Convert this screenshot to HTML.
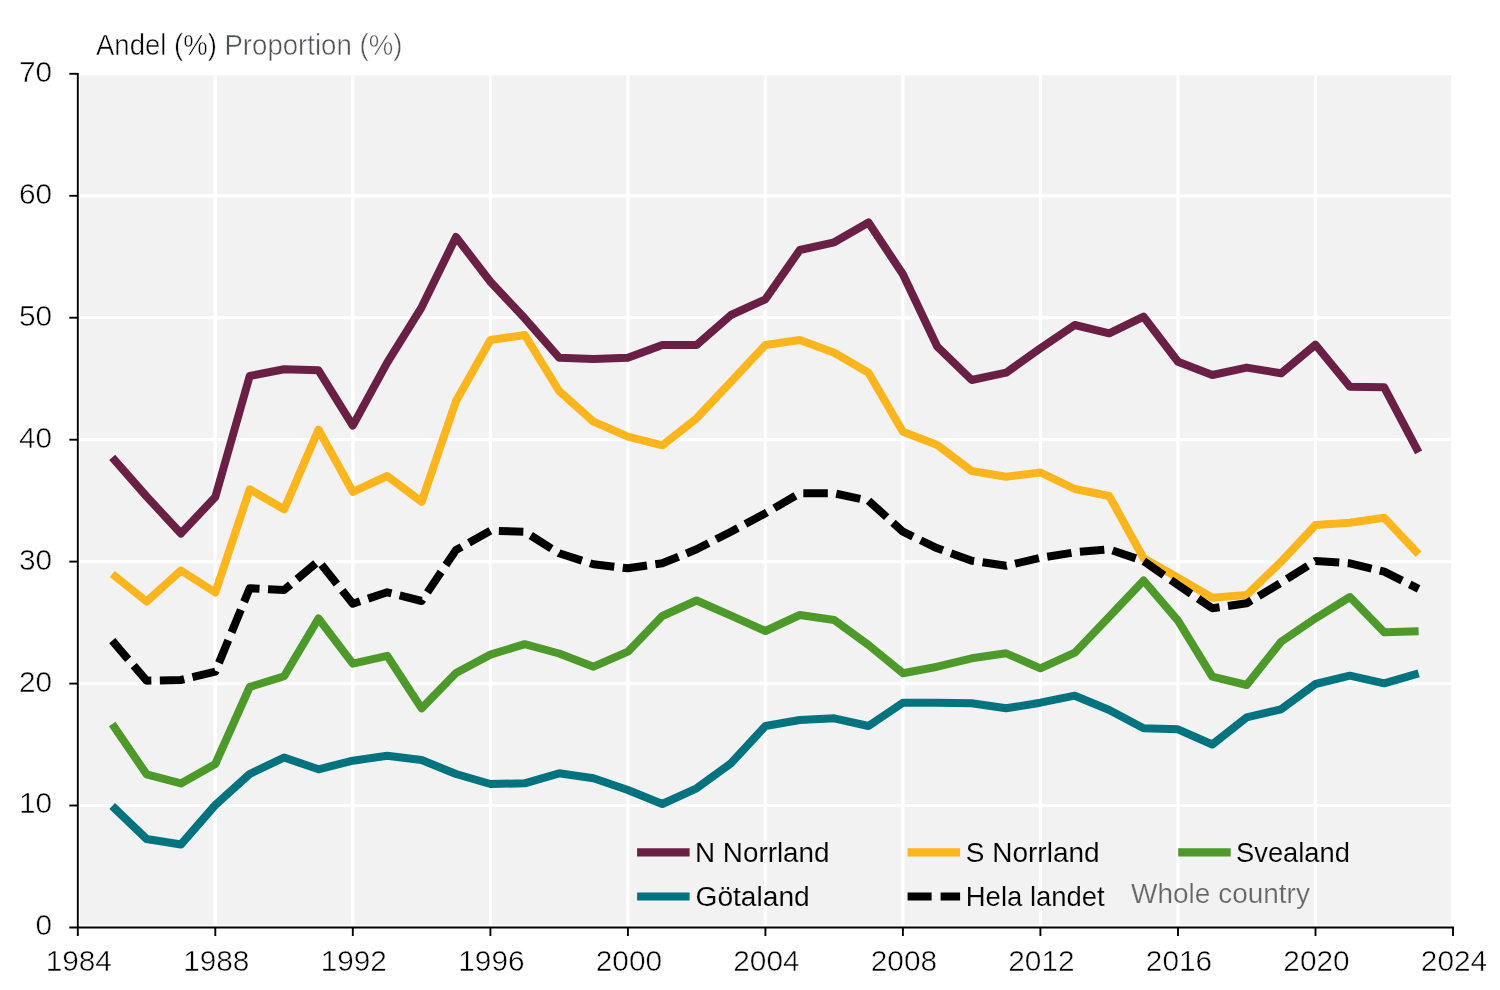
<!DOCTYPE html><html><head><meta charset="utf-8"><title>Chart</title>
<style>html,body{margin:0;padding:0;background:#fff}svg{display:block}text{font-family:"Liberation Sans",sans-serif;font-size:27.5px;fill:#111}</style></head><body>
<svg width="1500" height="990" viewBox="0 0 1500 990">
<rect x="0" y="0" width="1500" height="990" fill="#fff"/>
<rect x="80" y="75.3" width="1371.2" height="849.7" fill="#f2f2f2"/>
<g stroke="#fff" stroke-width="3.2"><line x1="77.8" x2="1453.0" y1="805.5" y2="805.5"/><line x1="77.8" x2="1453.0" y1="683.6" y2="683.6"/><line x1="77.8" x2="1453.0" y1="561.6" y2="561.6"/><line x1="77.8" x2="1453.0" y1="439.7" y2="439.7"/><line x1="77.8" x2="1453.0" y1="317.7" y2="317.7"/><line x1="77.8" x2="1453.0" y1="195.8" y2="195.8"/><line x1="215.3" x2="215.3" y1="73.8" y2="927.5"/><line x1="352.8" x2="352.8" y1="73.8" y2="927.5"/><line x1="490.4" x2="490.4" y1="73.8" y2="927.5"/><line x1="627.9" x2="627.9" y1="73.8" y2="927.5"/><line x1="765.4" x2="765.4" y1="73.8" y2="927.5"/><line x1="902.9" x2="902.9" y1="73.8" y2="927.5"/><line x1="1040.4" x2="1040.4" y1="73.8" y2="927.5"/><line x1="1178.0" x2="1178.0" y1="73.8" y2="927.5"/><line x1="1315.5" x2="1315.5" y1="73.8" y2="927.5"/></g>
<polyline fill="none" stroke-width="8" stroke-linejoin="round" stroke-linecap="butt" stroke="#00737f" points="112.2,806.0 146.6,839.0 180.9,844.5 215.3,805.0 249.7,774.0 284.1,757.5 318.5,769.3 352.8,760.7 387.2,755.8 421.6,760.0 456.0,774.0 490.4,784.0 524.7,783.3 559.1,773.3 593.5,778.3 627.9,790.0 662.3,804.0 696.6,788.3 731.0,763.3 765.4,726.0 799.8,720.0 834.2,718.3 868.5,726.0 902.9,702.7 937.3,702.7 971.7,703.3 1006.1,708.3 1040.4,702.7 1074.8,695.7 1109.2,710.0 1143.6,728.3 1178.0,729.3 1212.3,744.5 1246.7,717.3 1281.1,709.3 1315.5,684.0 1349.9,675.7 1384.2,683.3 1418.6,673.3"/>
<polyline fill="none" stroke-width="8" stroke-linejoin="round" stroke-linecap="butt" stroke="#4d9a2a" points="112.2,724.0 146.6,774.3 180.9,783.4 215.3,764.0 249.7,687.0 284.1,676.3 318.5,618.5 352.8,663.7 387.2,655.8 421.6,708.4 456.0,673.0 490.4,654.6 524.7,644.2 559.1,653.5 593.5,666.7 627.9,651.7 662.3,616.0 696.6,600.5 731.0,615.7 765.4,631.0 799.8,615.0 834.2,620.0 868.5,645.0 902.9,673.2 937.3,666.7 971.7,658.3 1006.1,653.3 1040.4,668.3 1074.8,652.7 1109.2,616.7 1143.6,580.5 1178.0,620.7 1212.3,676.7 1246.7,685.0 1281.1,641.7 1315.5,618.3 1349.9,597.0 1384.2,632.3 1418.6,631.3"/>
<polyline fill="none" stroke-width="8" stroke-linejoin="round" stroke-linecap="butt" stroke="#fdb51e" points="112.2,574.0 146.6,601.5 180.9,570.5 215.3,592.5 249.7,489.3 284.1,509.3 318.5,429.7 352.8,491.8 387.2,476.0 421.6,501.8 456.0,401.0 490.4,340.0 524.7,335.0 559.1,391.0 593.5,421.7 627.9,436.7 662.3,445.3 696.6,418.3 731.0,381.7 765.4,345.0 799.8,340.0 834.2,352.7 868.5,372.7 902.9,431.7 937.3,445.0 971.7,471.0 1006.1,476.7 1040.4,472.5 1074.8,489.0 1109.2,496.0 1143.6,558.3 1178.0,577.7 1212.3,597.7 1246.7,595.0 1281.1,561.7 1315.5,525.0 1349.9,522.7 1384.2,517.7 1418.6,554.2"/>
<polyline fill="none" stroke-width="8" stroke-linejoin="round" stroke-linecap="butt" stroke="#6a1f45" points="112.2,457.3 146.6,496.5 180.9,533.5 215.3,497.0 249.7,376.0 284.1,369.3 318.5,370.3 352.8,425.6 387.2,362.7 421.6,307.3 456.0,237.0 490.4,281.7 524.7,318.3 559.1,357.7 593.5,359.0 627.9,357.7 662.3,345.0 696.6,345.0 731.0,315.0 765.4,299.3 799.8,250.0 834.2,242.3 868.5,222.5 902.9,274.3 937.3,346.7 971.7,380.0 1006.1,372.7 1040.4,348.3 1074.8,325.0 1109.2,333.3 1143.6,316.7 1178.0,361.7 1212.3,375.0 1246.7,367.6 1281.1,373.3 1315.5,344.7 1349.9,386.7 1384.2,387.3 1418.6,452.3"/>
<polyline fill="none" stroke-width="8" stroke-linejoin="round" stroke-linecap="butt" stroke="#000" stroke-dasharray="24.5 8.5" points="112.2,640.7 146.6,680.7 180.9,680.0 215.3,671.7 249.7,588.3 284.1,590.0 318.5,561.0 352.8,603.7 387.2,592.3 421.6,601.0 456.0,550.0 490.4,530.7 524.7,531.7 559.1,553.3 593.5,564.3 627.9,568.3 662.3,563.3 696.6,549.3 731.0,531.7 765.4,513.3 799.8,493.3 834.2,493.3 868.5,500.7 902.9,531.7 937.3,548.3 971.7,560.7 1006.1,565.8 1040.4,557.8 1074.8,552.3 1109.2,549.3 1143.6,561.0 1178.0,585.0 1212.3,608.3 1246.7,603.3 1281.1,582.7 1315.5,561.0 1349.9,563.3 1384.2,571.7 1418.6,588.8"/>
<g stroke="#000" stroke-width="1.9" stroke-linecap="butt"><line x1="77.8" x2="77.8" y1="72.9" y2="936.0"/><line x1="69.3" x2="1454.0" y1="927.5" y2="927.5"/><line x1="69.3" x2="77.8" y1="805.5" y2="805.5"/><line x1="69.3" x2="77.8" y1="683.6" y2="683.6"/><line x1="69.3" x2="77.8" y1="561.6" y2="561.6"/><line x1="69.3" x2="77.8" y1="439.7" y2="439.7"/><line x1="69.3" x2="77.8" y1="317.7" y2="317.7"/><line x1="69.3" x2="77.8" y1="195.8" y2="195.8"/><line x1="69.3" x2="77.8" y1="73.8" y2="73.8"/><line x1="215.3" x2="215.3" y1="927.5" y2="936.0"/><line x1="352.8" x2="352.8" y1="927.5" y2="936.0"/><line x1="490.4" x2="490.4" y1="927.5" y2="936.0"/><line x1="627.9" x2="627.9" y1="927.5" y2="936.0"/><line x1="765.4" x2="765.4" y1="927.5" y2="936.0"/><line x1="902.9" x2="902.9" y1="927.5" y2="936.0"/><line x1="1040.4" x2="1040.4" y1="927.5" y2="936.0"/><line x1="1178.0" x2="1178.0" y1="927.5" y2="936.0"/><line x1="1315.5" x2="1315.5" y1="927.5" y2="936.0"/><line x1="1453.0" x2="1453.0" y1="927.5" y2="936.0"/></g>
<g style="opacity:0.999">
<text transform="translate(52.2,935.4) scale(1.0,1)" text-anchor="end" style="font-size:29.8px;fill:#000;stroke:#fff;stroke-width:0.5px;paint-order:fill stroke">0</text>
<text transform="translate(52.2,813.4) scale(1.0,1)" text-anchor="end" style="font-size:29.8px;fill:#000;stroke:#fff;stroke-width:0.5px;paint-order:fill stroke">10</text>
<text transform="translate(52.2,691.5) scale(1.0,1)" text-anchor="end" style="font-size:29.8px;fill:#000;stroke:#fff;stroke-width:0.5px;paint-order:fill stroke">20</text>
<text transform="translate(52.2,569.5) scale(1.0,1)" text-anchor="end" style="font-size:29.8px;fill:#000;stroke:#fff;stroke-width:0.5px;paint-order:fill stroke">30</text>
<text transform="translate(52.2,447.6) scale(1.0,1)" text-anchor="end" style="font-size:29.8px;fill:#000;stroke:#fff;stroke-width:0.5px;paint-order:fill stroke">40</text>
<text transform="translate(52.2,325.6) scale(1.0,1)" text-anchor="end" style="font-size:29.8px;fill:#000;stroke:#fff;stroke-width:0.5px;paint-order:fill stroke">50</text>
<text transform="translate(52.2,203.7) scale(1.0,1)" text-anchor="end" style="font-size:29.8px;fill:#000;stroke:#fff;stroke-width:0.5px;paint-order:fill stroke">60</text>
<text transform="translate(52.2,81.7) scale(1.0,1)" text-anchor="end" style="font-size:29.8px;fill:#000;stroke:#fff;stroke-width:0.5px;paint-order:fill stroke">70</text>
<text transform="translate(78.8,970.8) scale(1.0,1)" text-anchor="middle" style="font-size:29.8px;fill:#000;stroke:#fff;stroke-width:0.5px;paint-order:fill stroke">1984</text>
<text transform="translate(216.3,970.8) scale(1.0,1)" text-anchor="middle" style="font-size:29.8px;fill:#000;stroke:#fff;stroke-width:0.5px;paint-order:fill stroke">1988</text>
<text transform="translate(353.8,970.8) scale(1.0,1)" text-anchor="middle" style="font-size:29.8px;fill:#000;stroke:#fff;stroke-width:0.5px;paint-order:fill stroke">1992</text>
<text transform="translate(491.4,970.8) scale(1.0,1)" text-anchor="middle" style="font-size:29.8px;fill:#000;stroke:#fff;stroke-width:0.5px;paint-order:fill stroke">1996</text>
<text transform="translate(628.9,970.8) scale(1.0,1)" text-anchor="middle" style="font-size:29.8px;fill:#000;stroke:#fff;stroke-width:0.5px;paint-order:fill stroke">2000</text>
<text transform="translate(766.4,970.8) scale(1.0,1)" text-anchor="middle" style="font-size:29.8px;fill:#000;stroke:#fff;stroke-width:0.5px;paint-order:fill stroke">2004</text>
<text transform="translate(903.9,970.8) scale(1.0,1)" text-anchor="middle" style="font-size:29.8px;fill:#000;stroke:#fff;stroke-width:0.5px;paint-order:fill stroke">2008</text>
<text transform="translate(1041.4,970.8) scale(1.0,1)" text-anchor="middle" style="font-size:29.8px;fill:#000;stroke:#fff;stroke-width:0.5px;paint-order:fill stroke">2012</text>
<text transform="translate(1179.0,970.8) scale(1.0,1)" text-anchor="middle" style="font-size:29.8px;fill:#000;stroke:#fff;stroke-width:0.5px;paint-order:fill stroke">2016</text>
<text transform="translate(1316.5,970.8) scale(1.0,1)" text-anchor="middle" style="font-size:29.8px;fill:#000;stroke:#fff;stroke-width:0.5px;paint-order:fill stroke">2020</text>
<text transform="translate(1454.0,970.8) scale(1.0,1)" text-anchor="middle" style="font-size:29.8px;fill:#000;stroke:#fff;stroke-width:0.5px;paint-order:fill stroke">2024</text>
<text transform="translate(96.0,55.0) scale(0.95,1)" text-anchor="start" style="font-size:29px;fill:#000;stroke:#fff;stroke-width:0.5px;paint-order:fill stroke">Andel (%)</text>
<text transform="translate(224.4,55.0) scale(0.953,1)" text-anchor="start" style="font-size:29px;fill:#4f5257;stroke:#fff;stroke-width:0.5px;paint-order:fill stroke">Proportion (%)</text>
<line x1="637.1" x2="689.6" y1="852.4" y2="852.4" stroke="#6a1f45" stroke-width="8.1"/>
<text transform="translate(695.0,862.0) scale(0.994,1)" text-anchor="start" style="font-size:28px;fill:#000;stroke:#f2f2f2;stroke-width:0.1px;paint-order:fill stroke">N Norrland</text>
<line x1="907.6" x2="960.1" y1="852.4" y2="852.4" stroke="#fdb51e" stroke-width="8.1"/>
<text transform="translate(965.8,862.0) scale(1.0,1)" text-anchor="start" style="font-size:28px;fill:#000;stroke:#f2f2f2;stroke-width:0.1px;paint-order:fill stroke">S Norrland</text>
<line x1="1178.2" x2="1230.7" y1="852.4" y2="852.4" stroke="#4d9a2a" stroke-width="8.1"/>
<text transform="translate(1236.0,862.0) scale(0.977,1)" text-anchor="start" style="font-size:28px;fill:#000;stroke:#f2f2f2;stroke-width:0.1px;paint-order:fill stroke">Svealand</text>
<line x1="637.1" x2="689.6" y1="896.5" y2="896.5" stroke="#00737f" stroke-width="8.1"/>
<text transform="translate(695.5,906.1) scale(1.005,1)" text-anchor="start" style="font-size:28px;fill:#000;stroke:#f2f2f2;stroke-width:0.1px;paint-order:fill stroke">Götaland</text>
<line x1="907.6" x2="960.1" y1="896.5" y2="896.5" stroke="#000" stroke-width="8.1" stroke-dasharray="24 9"/>
<text transform="translate(965.8,906.1) scale(0.981,1)" text-anchor="start" style="font-size:28px;fill:#000;stroke:#f2f2f2;stroke-width:0.1px;paint-order:fill stroke">Hela landet</text>
<text transform="translate(1131.1,903.2) scale(0.982,1)" text-anchor="start" style="font-size:28.5px;fill:#666666;stroke:#f2f2f2;stroke-width:0.25px;paint-order:fill stroke">Whole country</text>
</g>
</svg></body></html>
